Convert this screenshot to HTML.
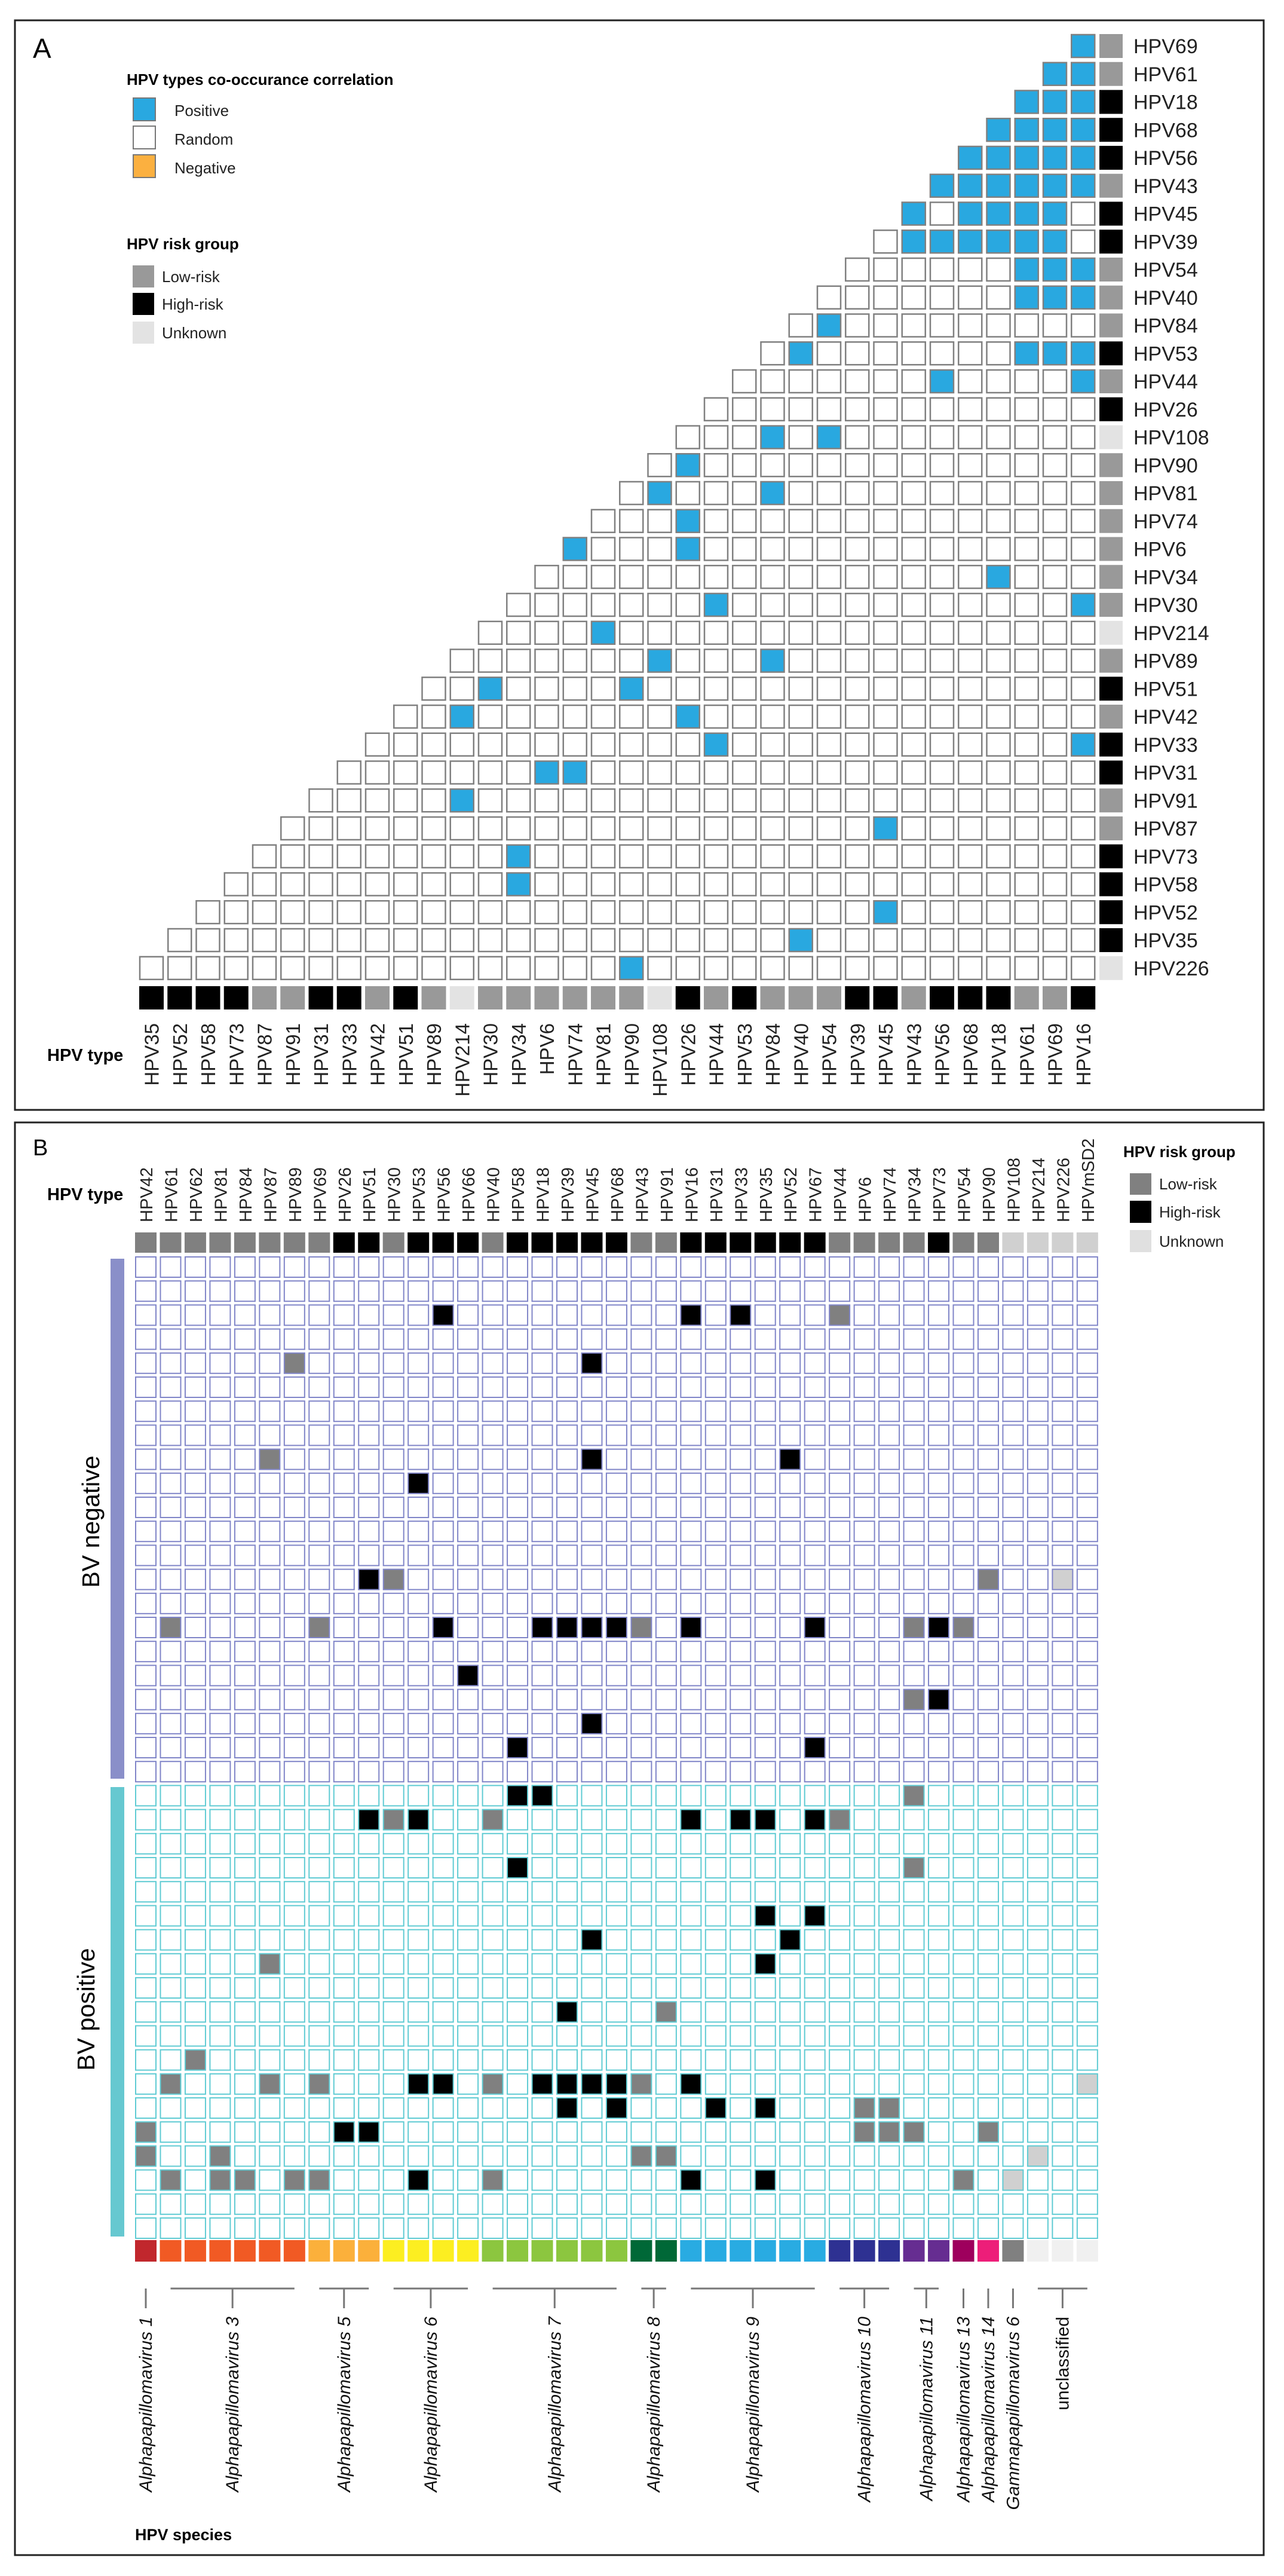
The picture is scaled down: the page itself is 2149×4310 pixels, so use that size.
<!DOCTYPE html>
<html><head><meta charset="utf-8">
<style>
html,body{margin:0;padding:0;background:#fff;}
svg{display:block;font-family:"Liberation Sans",Arial,sans-serif;}
</style></head>
<body>
<svg id="fig" xmlns="http://www.w3.org/2000/svg" width="2149" height="4310" viewBox="0 0 2149 4310">
  <rect x="0" y="0" width="2149" height="4310" fill="#fff"/>
  <rect x="25" y="34" width="2090" height="1823" fill="none" stroke="#222" stroke-width="3"/>
  <rect x="25" y="1878" width="2090" height="2397" fill="none" stroke="#222" stroke-width="3"/>
  <text x="55" y="97" font-size="46" fill="#000">A</text>
  <text x="55" y="1933" font-size="38" fill="#000">B</text>

  <g>
    <text x="212" y="142" font-size="26" font-weight="bold">HPV types co-occurance correlation</text>
    <rect x="223" y="164" width="37" height="38" fill="#29a8e0" stroke="#777" stroke-width="2"/>
    <text x="292" y="194" font-size="26" fill="#222">Positive</text>
    <rect x="223" y="211" width="37" height="38" fill="#fff" stroke="#777" stroke-width="2"/>
    <text x="292" y="242" font-size="26" fill="#222">Random</text>
    <rect x="223" y="259" width="37" height="38" fill="#fbb040" stroke="#777" stroke-width="2"/>
    <text x="292" y="290" font-size="26" fill="#222">Negative</text>
  </g>
  <g>
    <text x="212" y="417" font-size="26" font-weight="bold">HPV risk group</text>
    <rect x="222" y="444" width="36" height="37" fill="#999"/>
    <text x="271" y="472" font-size="26" fill="#222">Low-risk</text>
    <rect x="222" y="490" width="36" height="37" fill="#000"/>
    <text x="271" y="518" font-size="26" fill="#222">High-risk</text>
    <rect x="222" y="538" width="36" height="37" fill="#e3e3e3"/>
    <text x="271" y="566" font-size="26" fill="#222">Unknown</text>
  </g>
  <text x="79" y="1775" font-size="29" font-weight="bold">HPV type</text>

  <g>
    <text x="1880" y="1936" font-size="26" font-weight="bold">HPV risk group</text>
    <rect x="1891" y="1963" width="36" height="36" fill="#808080"/>
    <text x="1940" y="1990" font-size="26" fill="#222">Low-risk</text>
    <rect x="1891" y="2009" width="36" height="37" fill="#000"/>
    <text x="1940" y="2037" font-size="26" fill="#222">High-risk</text>
    <rect x="1891" y="2058" width="36" height="37" fill="#e0e0e0"/>
    <text x="1940" y="2086" font-size="26" fill="#222">Unknown</text>
  </g>
  <text x="79" y="2008" font-size="29" font-weight="bold">HPV type</text>
  <text x="226" y="4250" font-size="27" font-weight="bold">HPV species</text>

  <rect x="185" y="2106" width="23" height="870" fill="#8a8fc9"/>
  <rect x="185" y="2990" width="23" height="752" fill="#66c8d0"/>
  <text transform="translate(166,2546) rotate(-90)" text-anchor="middle" font-size="41" fill="#000">BV negative</text>
  <text transform="translate(158,3362) rotate(-90)" text-anchor="middle" font-size="41" fill="#000">BV positive</text>

  <g id="gA"></g>
  <g id="gB"></g>
</svg>
<script>
// ---------- Panel A data ----------
const colTypesA = ["HPV35","HPV52","HPV58","HPV73","HPV87","HPV91","HPV31","HPV33","HPV42","HPV51","HPV89","HPV214","HPV30","HPV34","HPV6","HPV74","HPV81","HPV90","HPV108","HPV26","HPV44","HPV53","HPV84","HPV40","HPV54","HPV39","HPV45","HPV43","HPV56","HPV68","HPV18","HPV61","HPV69","HPV16"];
const rowTypesA = ["HPV69","HPV61","HPV18","HPV68","HPV56","HPV43","HPV45","HPV39","HPV54","HPV40","HPV84","HPV53","HPV44","HPV26","HPV108","HPV90","HPV81","HPV74","HPV6","HPV34","HPV30","HPV214","HPV89","HPV51","HPV42","HPV33","HPV31","HPV91","HPV87","HPV73","HPV58","HPV52","HPV35","HPV226"];
// positive co-occurrence pairs [rowIndex, colIndex]
const positiveA = [[0,33],[1,32],[1,33],[2,31],[2,32],[2,33],[3,30],[3,31],[3,32],[3,33],
 [4,29],[4,30],[4,31],[4,32],[4,33],[5,28],[5,29],[5,30],[5,31],[5,32],[5,33],
 [6,27],[6,29],[6,30],[6,31],[6,32],[7,27],[7,28],[7,29],[7,30],[7,31],[7,32],
 [8,31],[8,32],[8,33],[9,31],[9,32],[9,33],[10,24],[11,23],[11,31],[11,32],[11,33],
 [12,28],[12,33],[14,22],[14,24],[15,19],[16,18],[16,22],[17,19],[18,15],[18,19],[19,30],
 [20,20],[20,33],[21,16],[22,18],[22,22],[23,12],[23,17],[24,11],[24,19],[25,20],[25,33],
 [26,14],[26,15],[27,11],[28,26],[29,13],[30,13],[31,26],[32,23],[33,17]];
const riskOf = {HPV69:"L",HPV61:"L",HPV18:"H",HPV68:"H",HPV56:"H",HPV43:"L",HPV45:"H",HPV39:"H",HPV54:"L",HPV40:"L",HPV84:"L",HPV53:"H",HPV44:"L",HPV26:"H",HPV108:"U",HPV90:"L",HPV81:"L",HPV74:"L",HPV6:"L",HPV34:"L",HPV30:"L",HPV214:"U",HPV89:"L",HPV51:"H",HPV42:"L",HPV33:"H",HPV31:"H",HPV91:"L",HPV87:"L",HPV73:"H",HPV58:"H",HPV52:"H",HPV35:"H",HPV226:"U",HPV16:"H",HPV62:"L",HPV66:"H",HPV67:"H",HPVmSD2:"U"};

// ---------- Panel B data ----------
const colTypesB = ["HPV42","HPV61","HPV62","HPV81","HPV84","HPV87","HPV89","HPV69","HPV26","HPV51","HPV30","HPV53","HPV56","HPV66","HPV40","HPV58","HPV18","HPV39","HPV45","HPV68","HPV43","HPV91","HPV16","HPV31","HPV33","HPV35","HPV52","HPV67","HPV44","HPV6","HPV74","HPV34","HPV73","HPV54","HPV90","HPV108","HPV214","HPV226","HPVmSD2"];
const nNegative = 22;
const nPositive = 19;
// detected HPV per sample [sampleRow, colIndex]
const detectedB = [[2,12],[2,22],[2,24],[2,28],[4,6],[4,18],[8,5],[8,18],[8,26],[9,11],
 [13,9],[13,10],[13,34],[13,37],
 [15,1],[15,7],[15,12],[15,16],[15,17],[15,18],[15,19],[15,20],[15,22],[15,27],[15,31],[15,32],[15,33],
 [17,13],[18,31],[18,32],[19,18],[20,15],[20,27],
 [22,15],[22,16],[22,31],
 [23,9],[23,10],[23,11],[23,14],[23,22],[23,24],[23,25],[23,27],[23,28],
 [25,15],[25,31],[27,25],[27,27],[28,18],[28,26],[29,5],[29,25],[31,17],[31,21],[33,2],
 [34,1],[34,5],[34,7],[34,11],[34,12],[34,14],[34,16],[34,17],[34,18],[34,19],[34,20],[34,22],[34,38],
 [35,17],[35,19],[35,23],[35,25],[35,29],[35,30],
 [36,0],[36,8],[36,9],[36,29],[36,30],[36,31],[36,34],
 [37,0],[37,3],[37,20],[37,21],[37,36],
 [38,1],[38,3],[38,4],[38,6],[38,7],[38,11],[38,14],[38,22],[38,25],[38,33],[38,35]];
const speciesNames = ["Alphapapillomavirus 1","Alphapapillomavirus 3","Alphapapillomavirus 5","Alphapapillomavirus 6","Alphapapillomavirus 7","Alphapapillomavirus 8","Alphapapillomavirus 9","Alphapapillomavirus 10","Alphapapillomavirus 11","Alphapapillomavirus 13","Alphapapillomavirus 14","Gammapapillomavirus 6","unclassified"];
const speciesStart = [0,1,7,10,14,20,22,28,31,33,34,35,36];
const speciesEnd   = [0,6,9,13,19,21,27,30,32,33,34,35,38];
const speciesColors = ["#c1272d","#f15a24","#fbb03b","#fcee21","#8cc63f","#006837","#29abe2","#2e3192","#662d91","#9e005d","#ed1e79","#808080","#f0f0f0"];

// ---------- helpers ----------
const NS = "http://www.w3.org/2000/svg";
function mk(parent, tag, attrs, txt){
  const el = document.createElementNS(NS, tag);
  for (const k in attrs) el.setAttribute(k, attrs[k]);
  if (txt !== undefined) el.textContent = txt;
  parent.appendChild(el);
  return el;
}
const riskColA = {L:"#999999",H:"#000000",U:"#e3e3e3"};
const riskColB = {L:"#808080",H:"#000000",U:"#d0d0d0"};

// axis functions A
const xA = j => 253.5 + 47.25*j;
const yA = r => 77 + 46.75*r;
const gA = document.getElementById("gA");
const posSet = new Set(positiveA.map(p => p[0]+"_"+p[1]));
const nA = colTypesA.length;
for (let r = 0; r < rowTypesA.length; r++) {
  for (let j = nA-1-r; j < nA; j++) {
    const pos = posSet.has(r+"_"+j);
    const c = mk(gA, "rect", {x:xA(j)-19.5, y:yA(r)-19, width:39, height:38, fill: pos ? "#29a8e0" : "#fff", stroke:"#808080", "stroke-width":2.5});
    
    
  }
  const rk = mk(gA, "rect", {x:1840, y:yA(r)-20, width:39, height:40, fill: riskColA[riskOf[rowTypesA[r]]]});
  
  
  const t = mk(gA, "text", {x:1897, y:yA(r)+12, "font-size":34, fill:"#222"}, rowTypesA[r]);
  
  
}
for (let j = 0; j < nA; j++) {
  const rk = mk(gA, "rect", {x:xA(j)-20.5, y:1650, width:41, height:39, fill: riskColA[riskOf[colTypesA[j]]]});
  
  
  const t = mk(gA, "text", {transform:`translate(${xA(j)+12},1712) rotate(-90)`, "text-anchor":"end", "font-size":33, fill:"#222"}, colTypesA[j]);
  
  
}

// axis functions B
const xB = c => 244 + 41.47*c;
const yB = k => 2120 + 40.2*k;
const gB = document.getElementById("gB");
const detSet = new Set(detectedB.map(p => p[0]+"_"+p[1]));
const nRows = nNegative + nPositive;
for (let c = 0; c < colTypesB.length; c++) {
  const rk = mk(gB, "rect", {x:xB(c)-18, y:2062, width:36, height:34, fill: riskColB[riskOf[colTypesB[c]]]});
  
  
  const t = mk(gB, "text", {transform:`translate(${xB(c)+11},2045) rotate(-90)`, "font-size":29, fill:"#222"}, colTypesB[c]);
  
  
  for (let k = 0; k < nRows; k++) {
    const det = detSet.has(k+"_"+c);
    const stroke = k < nNegative ? "#8085c8" : "#5fcbd3";
    const cell = mk(gB, "rect", {x:xB(c)-17, y:yB(k)-17, width:34, height:34, fill: det ? riskColB[riskOf[colTypesB[c]]] : "#fff", stroke:stroke, "stroke-width":2});
    
    
  }
}
for (let s = 0; s < speciesNames.length; s++) {
  for (let c = speciesStart[s]; c <= speciesEnd[s]; c++) {
    const sq = mk(gB, "rect", {x:xB(c)-18, y:3748, width:36, height:36, fill:speciesColors[s]});
    
    
  }
  const x0 = xB(speciesStart[s]), x1 = xB(speciesEnd[s]);
  const mid = (x0 + x1) / 2;
  if (speciesEnd[s] > speciesStart[s]) {
    const hl = mk(gB, "line", {x1:x0, y1:3829, x2:x1, y2:3829, stroke:"#777", "stroke-width":3});
    
    
  }
  const tk = mk(gB, "line", {x1:mid, y1:3829, x2:mid, y2:3862, stroke:"#777", "stroke-width":3});
  
  
  const italic = speciesNames[s] !== "unclassified";
  const lt = mk(gB, "text", {transform:`translate(${mid+10},3876) rotate(-90)`, "text-anchor":"end", "font-size":30, "font-style": italic ? "italic" : "normal", fill:"#111"}, speciesNames[s]);
  
  
}
</script>
</body></html>
